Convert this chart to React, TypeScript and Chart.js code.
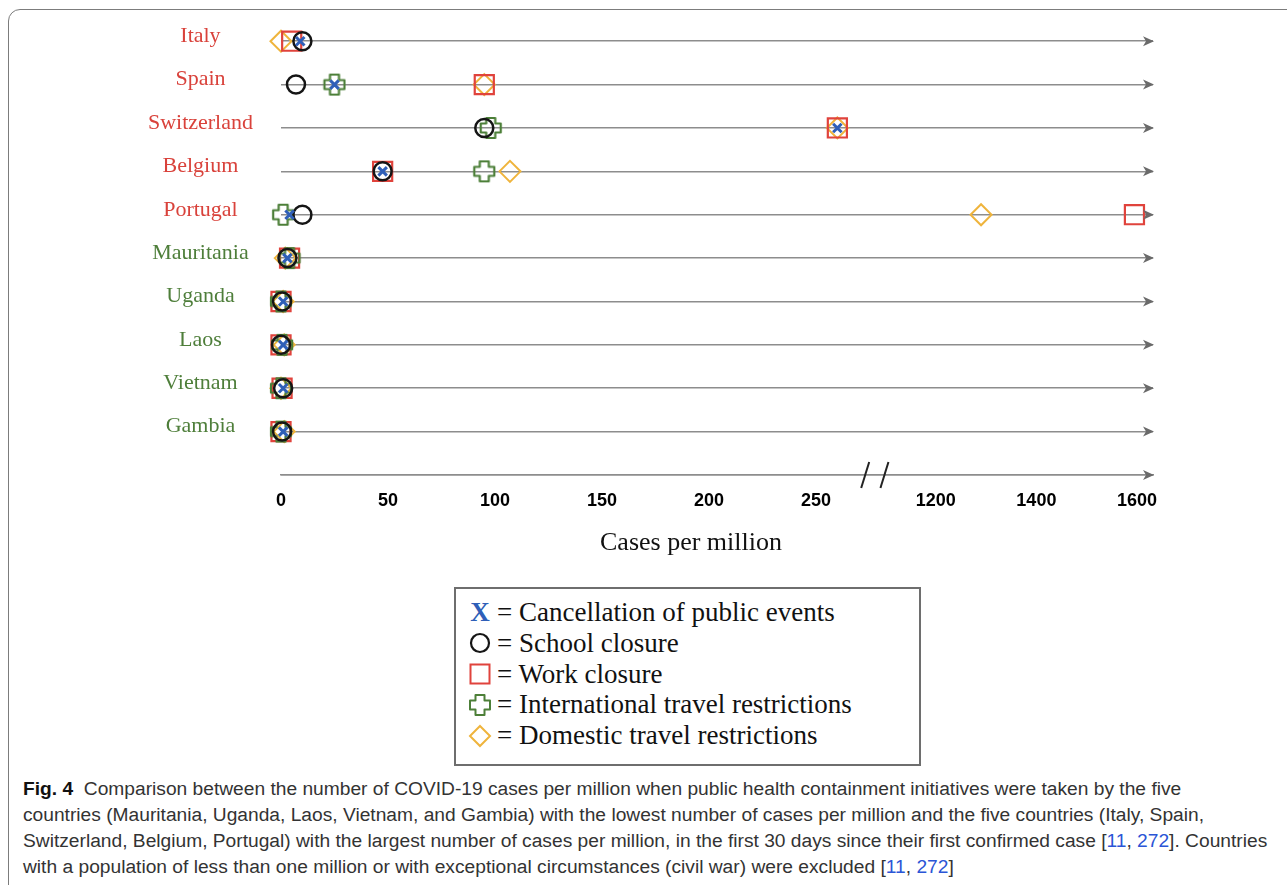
import React, { useEffect, useRef } from "react";
import { Chart, registerables } from "chart.js";

Chart.register(...registerables);

// ---------- data ----------
const countries = ["Italy", "Spain", "Switzerland", "Belgium", "Portugal", "Mauritania", "Uganda", "Laos", "Vietnam", "Gambia"];
const countryGroups = ["high", "high", "high", "high", "high", "low", "low", "low", "low", "low"];

// cases per million at the moment each measure was taken (null = not shown)
const cancellationOfPublicEvents = [9, 25, 260, 47.5, 4, 3, 1, 1, 1, 1];
const schoolClosure = [10, 7, 95, 47.5, 10, 3, 0.5, 0, 1, 0.5];
const workClosure = [5, 95, 260, 47.5, 1595, 4, 0, 0, 0.5, 0];
const internationalTravel = [null, 25, 98, 95, 1, 4, 0, 0.5, 0, 0];
const domesticTravel = [0, 95, 260, 107, 1290, 2, 1, 1.5, 0, 1.5];

const tickValues = [0, 50, 100, 150, 200, 250, 1200, 1400, 1600];
const tickLabels = ["0", "50", "100", "150", "200", "250", "1200", "1400", "1600"];

// broken axis: 0–275 linear, then 1200–1600 compressed
const LOW_END = 275;
const HIGH_START_AXIS = 306;
const HIGH_FACTOR = 0.235;
const AXIS_MAX = 407.5;
const BREAK_MARKS = [273, 282];
function toAxis(v: number): number {
  return v <= LOW_END ? v : HIGH_START_AXIS + (v - 1200) * HIGH_FACTOR;
}

const RED = "#e0433c";
const GREEN = "#4c7f38";
const BLUE = "#2f5fb8";
const ORANGE = "#efb43c";
const BLACK = "#151515";
const LINE_GRAY = "#8d8d8d";

function makePlus(): HTMLCanvasElement {
  const c = document.createElement("canvas");
  c.width = 24;
  c.height = 24;
  const g = c.getContext("2d")!;
  const m = 12, R = 10, a = 4.5;
  g.strokeStyle = GREEN;
  g.lineWidth = 2.2;
  g.lineJoin = "round";
  g.beginPath();
  g.moveTo(m - a, m - R);
  g.lineTo(m + a, m - R);
  g.lineTo(m + a, m - a);
  g.lineTo(m + R, m - a);
  g.lineTo(m + R, m + a);
  g.lineTo(m + a, m + a);
  g.lineTo(m + a, m + R);
  g.lineTo(m - a, m + R);
  g.lineTo(m - a, m + a);
  g.lineTo(m - R, m + a);
  g.lineTo(m - R, m - a);
  g.lineTo(m - a, m - a);
  g.closePath();
  g.stroke();
  return c;
}

function toPoints(values: (number | null)[]) {
  const n = countries.length;
  const pts: { x: number; y: number }[] = [];
  values.forEach((v, i) => {
    if (v !== null && v !== undefined) pts.push({ x: toAxis(v), y: n - i });
  });
  return pts;
}

const rowDecor = {
  id: "rowDecor",
  afterDraw(chart: any) {
    const { ctx, chartArea, scales } = chart;
    const y = scales.y;
    const x = scales.x;
    ctx.save();
    // arrow heads
    ctx.fillStyle = "#6a6a6a";
    y.ticks.forEach((t: any) => {
      const py = y.getPixelForValue(t.value);
      const tip = chartArea.right + 1;
      ctx.beginPath();
      ctx.moveTo(tip, py);
      ctx.lineTo(tip - 11, py - 5);
      ctx.lineTo(tip - 8, py);
      ctx.lineTo(tip - 11, py + 5);
      ctx.closePath();
      ctx.fill();
    });
    // axis break marks
    ctx.strokeStyle = "#222";
    ctx.lineWidth = 2;
    const by = chartArea.bottom;
    BREAK_MARKS.forEach((b) => {
      const px = x.getPixelForValue(b);
      ctx.beginPath();
      ctx.moveTo(px - 4, by + 13);
      ctx.lineTo(px + 4, by - 13);
      ctx.stroke();
    });
    ctx.restore();
  },
};

function ChartView() {
  const ref = useRef<HTMLCanvasElement | null>(null);
  useEffect(() => {
    if (!ref.current) return;
    const plus = makePlus();
    const n = countries.length;
    const chart = new Chart(ref.current, {
      type: "scatter",
      data: {
        datasets: [
          {
            label: "Cancellation of public events",
            data: toPoints(cancellationOfPublicEvents),
            pointStyle: "crossRot",
            pointRadius: 6,
            borderColor: BLUE,
            borderWidth: 3,
            backgroundColor: "transparent",
            clip: false,
          },
          {
            label: "School closure",
            data: toPoints(schoolClosure),
            pointStyle: "circle",
            pointRadius: 9,
            borderColor: BLACK,
            borderWidth: 2.5,
            backgroundColor: "transparent",
            clip: false,
          },
          {
            label: "International travel restrictions",
            data: toPoints(internationalTravel),
            pointStyle: plus,
            pointRadius: 10,
            borderColor: GREEN,
            backgroundColor: "transparent",
            clip: false,
          },
          {
            label: "Work closure",
            data: toPoints(workClosure),
            pointStyle: "rect",
            pointRadius: 13.5,
            borderColor: RED,
            borderWidth: 2.2,
            backgroundColor: "transparent",
            clip: false,
          },
          {
            label: "Domestic travel restrictions",
            data: toPoints(domesticTravel),
            pointStyle: "rectRot",
            pointRadius: 10.5,
            borderColor: ORANGE,
            borderWidth: 2,
            backgroundColor: "transparent",
            clip: false,
          },
        ] as any,
      },
      options: {
        animation: false,
        responsive: false,
        maintainAspectRatio: false,
        layout: { padding: { left: 0, right: 134, top: 41, bottom: 0 } },
        plugins: { legend: { display: false }, tooltip: { enabled: false }, title: { display: false } },
        scales: {
          x: {
            type: "linear",
            min: 0,
            max: AXIS_MAX,
            afterBuildTicks: (s: any) => {
              s.ticks = tickValues.map((v) => ({ value: toAxis(v) }));
            },
            afterFit: (s: any) => {
              s.height = 55;
            },
            grid: { display: false, drawTicks: false },
            border: { display: true, color: LINE_GRAY, width: 1.5 },
            ticks: {
              autoSkip: false,
              maxRotation: 0,
              padding: 15,
              color: "#000",
              font: { family: "'Liberation Sans', Arial, sans-serif", size: 18, weight: "bold" },
              callback: (_v: any, i: number) => tickLabels[i],
            },
          },
          y: {
            type: "linear",
            min: 0,
            max: n,
            afterBuildTicks: (s: any) => {
              s.ticks = countries.map((_, i) => ({ value: n - i })).concat([{ value: 0 }]);
            },
            afterFit: (s: any) => {
              s.width = 281;
            },
            border: { display: false },
            grid: { drawTicks: false, color: LINE_GRAY, lineWidth: 1.5 },
            ticks: {
              autoSkip: false,
              crossAlign: "center",
              padding: 28,
              labelOffset: -5,
              font: { family: "'Liberation Serif', 'Times New Roman', serif", size: 22 },
              color: (ctx: any) => {
                const idx = n - ctx.tick.value;
                return countryGroups[idx] === "high" ? "#d9423b" : "#4e7e3a";
              },
              callback: (v: any) => (v === 0 ? "" : countries[n - v]),
            },
          },
        },
      } as any,
      plugins: [rowDecor],
    });
    return () => chart.destroy();
  }, []);
  return <canvas ref={ref} width={1287} height={530} style={{ position: "absolute", left: 0, top: 0, width: 1287, height: 530 }} />;
}

const legendItems = [
  "Cancellation of public events",
  "School closure",
  "Work closure",
  "International travel restrictions",
  "Domestic travel restrictions",
];

function LegendSymbol({ i }: { i: number }) {
  if (i === 0)
    return (
      <span style={{ color: BLUE, fontWeight: "bold", fontFamily: "'Liberation Serif', serif", fontSize: 27 }}>X</span>
    );
  return (
    <svg width={24} height={24} viewBox="0 0 24 24" style={{ display: "block" }}>
      {i === 1 && <circle cx={12} cy={12} r={9} fill="none" stroke={BLACK} strokeWidth={2.2} />}
      {i === 2 && <rect x={2.5} y={2.5} width={19} height={19} fill="none" stroke={RED} strokeWidth={2} />}
      {i === 3 && (
        <path
          d="M7.5 2 H16.5 V7.5 H22 V16.5 H16.5 V22 H7.5 V16.5 H2 V7.5 H7.5 Z"
          fill="none"
          stroke={GREEN}
          strokeWidth={2}
          strokeLinejoin="round"
        />
      )}
      {i === 4 && <polygon points="12,2 22,12 12,22 2,12" fill="none" stroke={ORANGE} strokeWidth={2} />}
    </svg>
  );
}

export default function App() {
  const serif = "'Liberation Serif', 'Times New Roman', serif";
  const capFont = "'Liberation Sans', Arial, sans-serif";
  const ref = (t: string) => <span style={{ color: "#2b55d6" }}>{t}</span>;
  return (
    <div style={{ position: "relative", width: 1287, height: 885, overflow: "hidden", background: "#fff" }}>
      <style>{"body{margin:0;}"}</style>
      <div
        style={{
          position: "absolute",
          left: 8,
          top: 9,
          width: 1320,
          height: 920,
          border: "1.5px solid #7c7c7c",
          borderRadius: 12,
          boxSizing: "border-box",
        }}
      />
      <ChartView />
      <div
        style={{
          position: "absolute",
          left: 541,
          top: 526,
          width: 300,
          textAlign: "center",
          fontFamily: serif,
          fontSize: 26,
          lineHeight: "32px",
          color: "#111",
        }}
      >
        Cases per million
      </div>
      <div
        style={{
          position: "absolute",
          left: 454,
          top: 587,
          width: 467,
          height: 179,
          border: "2px solid #6e6e6e",
          boxSizing: "border-box",
        }}
      />
      {legendItems.map((t, i) => (
        <div
          key={t}
          style={{ position: "absolute", left: 466, top: 597 + i * 30.8, height: 31, display: "flex", alignItems: "center" }}
        >
          <div style={{ width: 28, display: "flex", justifyContent: "center", alignItems: "center" }}>
            <LegendSymbol i={i} />
          </div>
          <div style={{ fontFamily: serif, fontSize: 27, lineHeight: "31px", color: "#111", whiteSpace: "nowrap", marginLeft: 3 }}>
            = {t}
          </div>
        </div>
      ))}
      <div
        style={{
          position: "absolute",
          left: 23,
          top: 776,
          width: 1262,
          fontFamily: capFont,
          fontSize: 19.2,
          lineHeight: "26px",
          color: "#333",
          whiteSpace: "nowrap",
        }}
      >
        <div>
          <b style={{ color: "#111" }}>Fig. 4</b>
          {"\u00a0 "}Comparison between the number of COVID-19 cases per million when public health containment initiatives were taken by the five
        </div>
        <div>
          countries (Mauritania, Uganda, Laos, Vietnam, and Gambia) with the lowest number of cases per million and the five countries (Italy, Spain,
        </div>
        <div>
          Switzerland, Belgium, Portugal) with the largest number of cases per million, in the first 30 days since their first confirmed case [{ref("11")}, {ref("272")}]. Countries
        </div>
        <div>
          with a population of less than one million or with exceptional circumstances (civil war) were excluded [{ref("11")}, {ref("272")}]
        </div>
      </div>
    </div>
  );
}
